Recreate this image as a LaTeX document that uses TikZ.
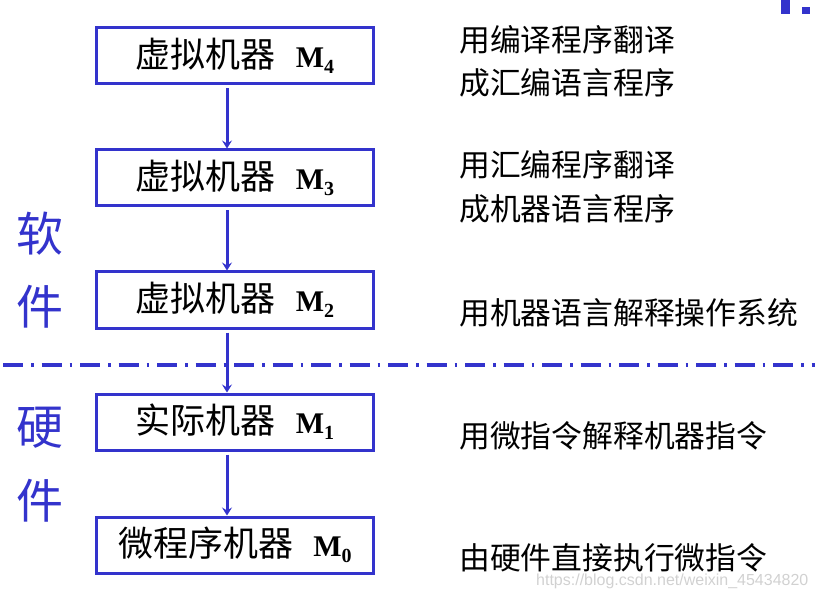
\documentclass[tikz,border=0pt]{standalone}
\usepackage{fontspec}
\setmainfont{Liberation Serif}
\setsansfont{Liberation Sans}
\newfontfamily\cjk{Noto Sans CJK SC}
\usetikzlibrary{arrows.meta}
\definecolor{dblue}{HTML}{3333CC}
\newcommand{\mlabel}[2]{{\cjk #1}\hspace{20pt}{\fontsize{30}{30}\selectfont\bfseries M\raisebox{-6pt}{\fontsize{20}{20}\selectfont #2}}}
\tikzset{
  machine/.style={draw=dblue, line width=3pt, minimum width=277pt, minimum height=56pt, inner sep=0pt, font=\fontsize{35}{35}\selectfont},
  desc/.style={anchor=west, inner sep=0pt, font=\cjk\fontsize{30.8}{30.8}\selectfont},
  side/.style={inner sep=0pt, text=dblue, font=\cjk\fontsize{47}{47}\selectfont},
  flow/.style={draw=dblue, line width=3pt, -{Stealth[length=8pt,width=10pt,inset=3pt]}, shorten <=3pt},
  sep/.style={draw=dblue, line width=4pt, dash pattern=on 20pt off 8pt on 2.5pt off 8pt}
}
\begin{document}
\begin{tikzpicture}[x=1pt,y=-1pt]
\useasboundingbox (0,0) rectangle (815,599);
% top right fragments
\fill[dblue] (781,0) rectangle (790,14);
\fill[dblue] (802,7) rectangle (810,14);
% boxes
\node[machine] (m4) at (235,56) {\mlabel{虚拟机器}{4}};
\node[machine] (m3) at (235,178) {\mlabel{虚拟机器}{3}};
\node[machine] (m2) at (235,300) {\mlabel{虚拟机器}{2}};
\node[machine] (m1) at (235,422) {\mlabel{实际机器}{1}};
\node[machine] (m0) at (235,545) {\mlabel{微程序机器}{0}};
% separator
\coordinate (sl) at (3,365);
\coordinate (sr) at (815,365);
\draw[sep] (sl) -- (sr);
% arrows
\draw[flow] ([xshift=-8pt]m4.south) -- ([xshift=-8pt]m3.north);
\draw[flow] ([xshift=-8pt]m3.south) -- ([xshift=-8pt]m2.north);
\draw[flow] ([xshift=-8pt]m2.south) -- ([xshift=-8pt]m1.north);
\draw[flow] ([xshift=-8pt]m1.south) -- ([xshift=-8pt]m0.north);
% descriptions
\node[desc] (d4a) at (459,40) {用编译程序翻译};
\node[desc] (d4b) at (459,83) {成汇编语言程序};
\node[desc] (d3a) at (459,165) {用汇编程序翻译};
\node[desc] (d3b) at (459,209) {成机器语言程序};
\node[desc] (d2) at (459,313) {用机器语言解释操作系统};
\node[desc] (d1) at (459,436) {用微指令解释机器指令};
\node[desc] (d0) at (459,558) {由硬件直接执行微指令};
% side labels
\node[side] (s1) at (40,234) {软};
\node[side] (s2) at (40,307) {件};
\node[side] (h1) at (40,428) {硬};
\node[side] (h2) at (40,501) {件};
% watermark
\node[anchor=west, inner sep=0pt, text=black!18, font=\sffamily\fontsize{16}{16}\selectfont] (wm) at (536,581) {https://blog.csdn.net/weixin\_45434820};
\end{tikzpicture}
\end{document}
